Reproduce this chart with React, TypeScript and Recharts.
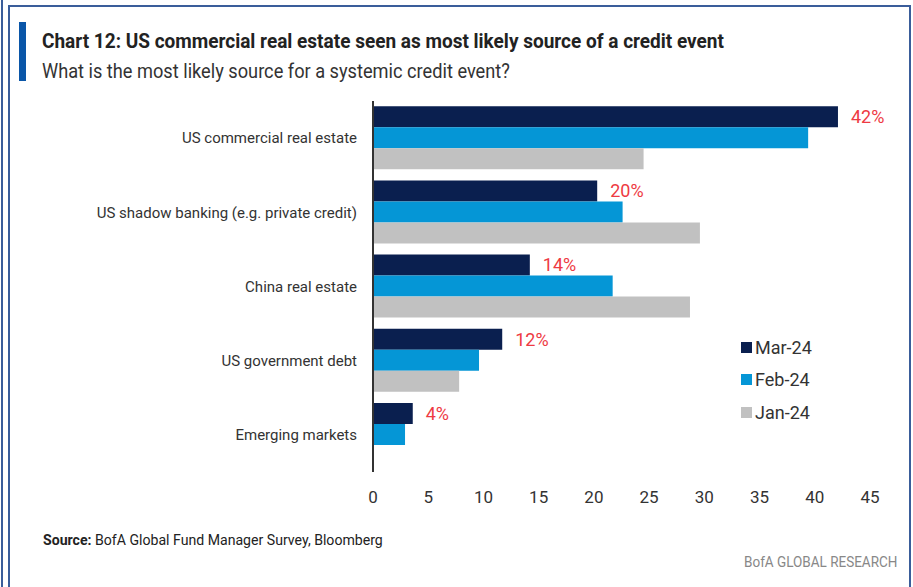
import React from "react";
import { BarChart, Bar, XAxis, YAxis, Legend, LabelList } from "recharts";

const categories = [
  "US commercial real estate",
  "US shadow banking (e.g. private credit)",
  "China real estate",
  "US government debt",
  "Emerging markets",
];
const mar24 = [42.1, 20.3, 14.2, 11.7, 3.6];
const feb24 = [39.4, 22.6, 21.7, 9.6, 2.9];
const jan24 = [24.5, 29.6, 28.7, 7.8, 0];
const marLabels = ["42%", "20%", "14%", "12%", "4%"];
const xTicks = [0, 5, 10, 15, 20, 25, 30, 35, 40, 45];
const seriesNames = ["Mar-24", "Feb-24", "Jan-24"];

const data = categories.map((c, i) => ({
  category: c,
  mar: mar24[i],
  feb: feb24[i],
  jan: jan24[i],
  marLabel: marLabels[i],
}));

const FONT = 'Roboto, "Liberation Sans", sans-serif';
const BORDER = "#3a5d9a";

const LegendContent = (props: any) => {
  const payload = [...(props.payload || [])].sort(
    (a: any, b: any) => seriesNames.indexOf(a.value) - seriesNames.indexOf(b.value)
  );
  return (
    <div style={{ fontFamily: FONT }}>
      {payload.map((p: any) => (
        <div
          key={p.value}
          style={{ display: "flex", alignItems: "center", height: 32.5 }}
        >
          <span
            style={{
              display: "inline-block",
              width: 11,
              height: 11,
              background: p.color,
              marginRight: 3,
            }}
          />
          <span style={{ fontSize: 18, color: "#333" }}>{p.value}</span>
        </div>
      ))}
    </div>
  );
};

export default function App() {
  return (
    <div
      style={{
        position: "absolute",
        left: 0,
        top: 0,
        width: 913,
        height: 587,
        background: "#fff",
        overflow: "hidden",
        fontFamily: FONT,
      }}
    >
      <div style={{ position: "absolute", left: 1, top: 0, width: 2, height: 587, background: BORDER }} />
      <div
        style={{
          position: "absolute",
          left: 8,
          top: 5,
          width: 899,
          height: 600,
          borderLeft: `2px solid ${BORDER}`,
          borderTop: `2px solid ${BORDER}`,
          borderRight: `2px solid ${BORDER}`,
        }}
      />
      <div style={{ position: "absolute", left: 19, top: 22, width: 7, height: 59, background: "#0a56a8" }} />
      <div
        style={{
          position: "absolute",
          left: 42,
          top: 29,
          fontSize: 21,
          fontWeight: "bold",
          color: "#222",
          whiteSpace: "nowrap",
          lineHeight: "24px",
          transform: "scaleX(0.905)",
          transformOrigin: "left center",
        }}
      >
        Chart 12: US commercial real estate seen as most likely source of a credit event
      </div>
      <div
        style={{
          position: "absolute",
          left: 42,
          top: 59,
          fontSize: 20,
          color: "#333",
          whiteSpace: "nowrap",
          lineHeight: "24px",
          transform: "scaleX(0.91)",
          transformOrigin: "left center",
        }}
      >
        What is the most likely source for a systemic credit event?
      </div>

      <div style={{ position: "absolute", left: 0, top: 0 }}>
        <BarChart
          width={913}
          height={587}
          data={data}
          layout="vertical"
          margin={{ top: 101, right: 43, bottom: 85, left: 0 }}
          barCategoryGap="7%"
          barGap={0}
        >
          <XAxis
            type="number"
            domain={[0, 45]}
            ticks={xTicks}
            axisLine={false}
            tickLine={false}
            tickSize={0}
            tickMargin={19}
            height={30}
            tick={{ fill: "#333", fontSize: 17, fontFamily: FONT }}
          />
          <YAxis
            type="category"
            dataKey="category"
            width={373}
            axisLine={{ stroke: "#333", strokeWidth: 2 }}
            tickLine={false}
            tickSize={0}
            tickMargin={16}
            interval={0}
            tick={{ fill: "#333", fontSize: 15, fontFamily: FONT }}
          />
          <Legend
            layout="vertical"
            verticalAlign="middle"
            align="center"
            content={<LegendContent />}
            wrapperStyle={{ position: "absolute", left: 741, top: 331, width: 120 }}
          />
          <Bar dataKey="mar" name={seriesNames[0]} fill="#0a1f4f" isAnimationActive={false}>
            <LabelList
              dataKey="marLabel"
              position="right"
              offset={13}
              fill="#ee3a43"
              fontSize={18}
              fontFamily={FONT}
            />
          </Bar>
          <Bar dataKey="feb" name={seriesNames[1]} fill="#0596d6" isAnimationActive={false} />
          <Bar dataKey="jan" name={seriesNames[2]} fill="#c1c1c1" isAnimationActive={false} />
        </BarChart>
      </div>

      <div
        style={{
          position: "absolute",
          left: 43,
          top: 530,
          fontSize: 15,
          color: "#222",
          whiteSpace: "nowrap",
          lineHeight: "20px",
          transform: "scaleX(0.94)",
          transformOrigin: "left center",
        }}
      >
        <b>Source:</b> BofA Global Fund Manager Survey, Bloomberg
      </div>
      <div
        style={{
          position: "absolute",
          right: 16,
          top: 552,
          fontSize: 15,
          color: "#888",
          whiteSpace: "nowrap",
          lineHeight: "20px",
          transform: "scaleX(0.9)",
          transformOrigin: "right center",
        }}
      >
        BofA GLOBAL RESEARCH
      </div>
    </div>
  );
}
